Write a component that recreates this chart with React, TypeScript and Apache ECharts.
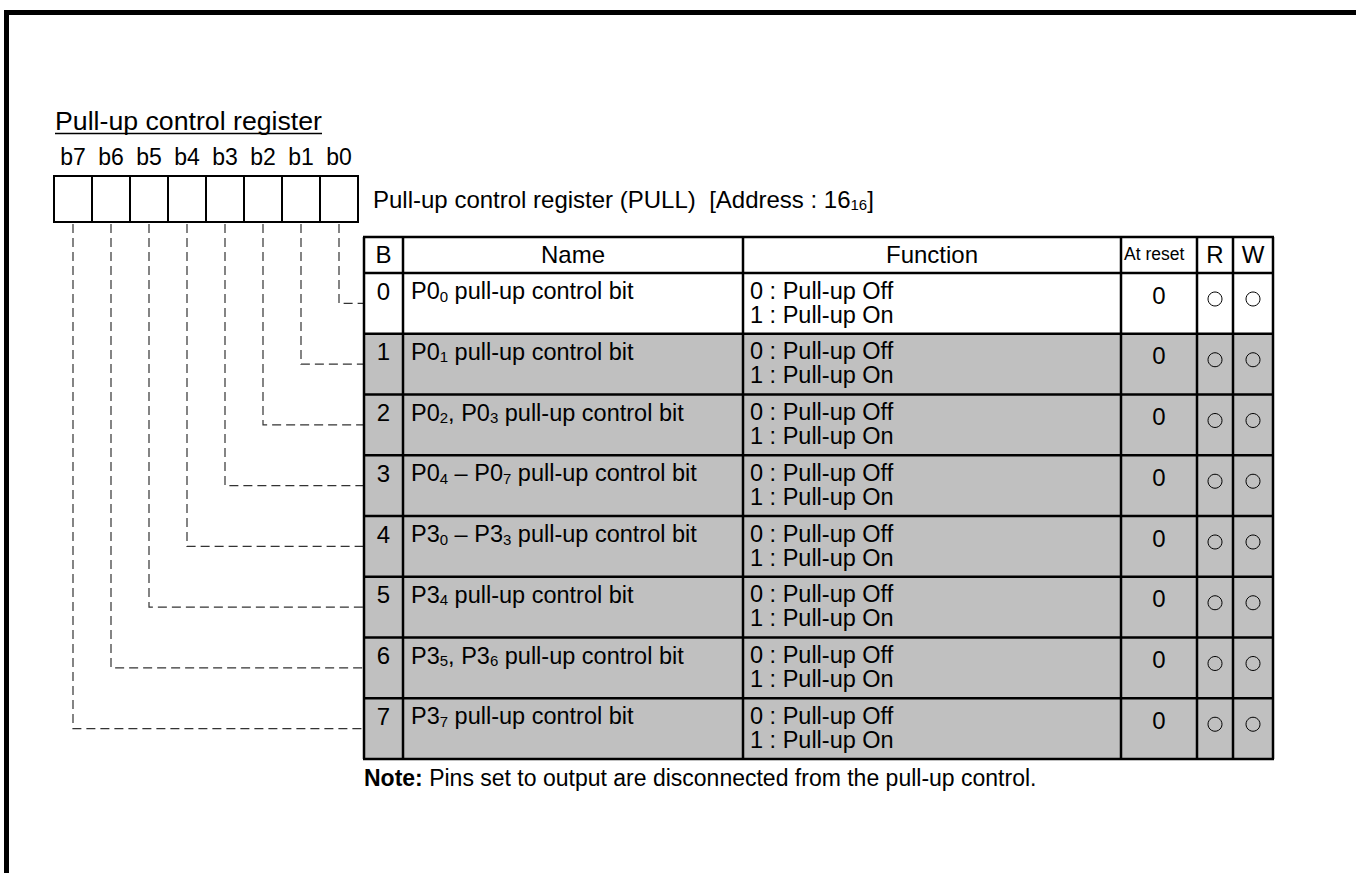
import React, { useEffect, useRef } from 'react';
import * as echarts from 'echarts';

// ---------- content ----------
const TITLE = 'Pull-up control register';
const DESCRIPTION = 'Pull-up control register (PULL)  [Address : 16{s|16}]';
const bitLabels = ['b7', 'b6', 'b5', 'b4', 'b3', 'b2', 'b1', 'b0'];
const headers = ['B', 'Name', 'Function', 'At reset', 'R', 'W'];
const rowBits = ['0', '1', '2', '3', '4', '5', '6', '7'];
const rowNames = [
  'P0{s|0} pull-up control bit',
  'P0{s|1} pull-up control bit',
  'P0{s|2}, P0{s|3} pull-up control bit',
  'P0{s|4} – P0{s|7} pull-up control bit',
  'P3{s|0} – P3{s|3} pull-up control bit',
  'P3{s|4} pull-up control bit',
  'P3{s|5}, P3{s|6} pull-up control bit',
  'P3{s|7} pull-up control bit',
];
const functionOff = [
  '0 : Pull-up Off', '0 : Pull-up Off', '0 : Pull-up Off', '0 : Pull-up Off',
  '0 : Pull-up Off', '0 : Pull-up Off', '0 : Pull-up Off', '0 : Pull-up Off',
];
const functionOn = [
  '1 : Pull-up On', '1 : Pull-up On', '1 : Pull-up On', '1 : Pull-up On',
  '1 : Pull-up On', '1 : Pull-up On', '1 : Pull-up On', '1 : Pull-up On',
];
const resetValues = ['0', '0', '0', '0', '0', '0', '0', '0'];
const readable = [true, true, true, true, true, true, true, true];
const writable = [true, true, true, true, true, true, true, true];
const shaded = [false, true, true, true, true, true, true, true];
const NOTE_LABEL = 'Note:';
const NOTE_TEXT = ' Pins set to output are disconnected from the pull-up control.';

// ---------- layout ----------
const FONT = '"Liberation Sans", Arial, Helvetica, sans-serif';
const COLS = [364, 403, 743, 1121, 1197, 1233, 1273];
const HEADER_TOP = 237;
const HEADER_BOTTOM = 273;
const ROW_H = 60.75;
const BOX_LEFT = 54;
const BOX_W = 38;
const BOX_TOP = 176;
const BOX_BOTTOM = 222;
const GRAY = '#c0c0c0';

function buildElements() {
  const els: any[] = [];
  const rowTop = (k: number) => HEADER_BOTTOM + k * ROW_H;
  const tableBottom = rowTop(rowBits.length);
  const subRich = {
    s: { fontSize: 15, lineHeight: 15, fontFamily: FONT, fill: '#000', verticalAlign: 'bottom' },
  };

  // frame (top + left thick border)
  els.push({ type: 'rect', shape: { x: 4, y: 10, width: 1352, height: 5 }, style: { fill: '#000' } });
  els.push({ type: 'rect', shape: { x: 4, y: 10, width: 5, height: 863 }, style: { fill: '#000' } });

  // title + underline
  els.push({
    type: 'text', x: 55, y: 121,
    style: { text: TITLE, fontSize: 26.7, fontFamily: FONT, fill: '#000', align: 'left', verticalAlign: 'middle' },
  });
  els.push({ type: 'line', shape: { x1: 55, y1: 133.5, x2: 322, y2: 133.5 }, style: { stroke: '#000', lineWidth: 1.5 } });

  // bit labels and boxes
  bitLabels.forEach((b, i) => {
    const cx = BOX_LEFT + BOX_W * i + BOX_W / 2;
    els.push({
      type: 'text', x: cx, y: 157,
      style: { text: b, fontSize: 23, fontFamily: FONT, fill: '#000', align: 'center', verticalAlign: 'middle' },
    });
    els.push({
      type: 'rect', shape: { x: BOX_LEFT + BOX_W * i, y: BOX_TOP, width: BOX_W, height: BOX_BOTTOM - BOX_TOP },
      style: { fill: '#fff', stroke: '#000', lineWidth: 2 },
    });
  });

  // description
  els.push({
    type: 'text', x: 373, y: 199,
    style: { text: DESCRIPTION, fontSize: 24, fontFamily: FONT, fill: '#000', align: 'left', verticalAlign: 'middle', lineHeight: 26, rich: subRich },
  });

  // dashed connectors (row k <- bit k)
  rowBits.forEach((_, k) => {
    const boxIndex = bitLabels.length - 1 - k;
    const x = BOX_LEFT + BOX_W * boxIndex + BOX_W / 2;
    const ym = rowTop(k) + ROW_H / 2;
    els.push({
      type: 'polyline',
      shape: { points: [[x, 224], [x, ym], [COLS[0], ym]] },
      style: { stroke: '#333', lineWidth: 1.2, lineDash: [9, 5], fill: 'none' },
    });
  });

  // table backgrounds
  els.push({
    type: 'rect', shape: { x: COLS[0], y: HEADER_TOP, width: COLS[6] - COLS[0], height: HEADER_BOTTOM - HEADER_TOP },
    style: { fill: '#fff' },
  });
  rowBits.forEach((_, k) => {
    els.push({
      type: 'rect', shape: { x: COLS[0], y: rowTop(k), width: COLS[6] - COLS[0], height: ROW_H },
      style: { fill: shaded[k] ? GRAY : '#fff' },
    });
  });

  // header texts
  const headerY = 254;
  const centers = COLS.slice(0, -1).map((c, i) => (c + COLS[i + 1]) / 2);
  headers.forEach((h, i) => {
    const small = h === 'At reset';
    els.push({
      type: 'text', x: small ? COLS[i] + 3 : centers[i], y: headerY,
      style: {
        text: h, fontSize: small ? 17.5 : 24, fontFamily: FONT, fill: '#000',
        align: small ? 'left' : 'center', verticalAlign: 'middle',
      },
    });
  });

  // row contents
  rowBits.forEach((bit, k) => {
    const top = rowTop(k);
    els.push({
      type: 'text', x: centers[0], y: top + 18,
      style: { text: bit, fontSize: 24, fontFamily: FONT, fill: '#000', align: 'center', verticalAlign: 'middle' },
    });
    els.push({
      type: 'text', x: COLS[1] + 8, y: top + 18,
      style: { text: rowNames[k], fontSize: 23.5, fontFamily: FONT, fill: '#000', align: 'left', verticalAlign: 'middle', lineHeight: 25, rich: subRich },
    });
    els.push({
      type: 'text', x: COLS[2] + 7, y: top + 29.5,
      style: {
        text: `${functionOff[k]}\n${functionOn[k]}`, fontSize: 23.5, lineHeight: 24,
        fontFamily: FONT, fill: '#000', align: 'left', verticalAlign: 'middle',
      },
    });
    els.push({
      type: 'text', x: centers[3], y: top + 22,
      style: { text: resetValues[k], fontSize: 24, fontFamily: FONT, fill: '#000', align: 'center', verticalAlign: 'middle' },
    });
    if (readable[k]) {
      els.push({ type: 'circle', shape: { cx: centers[4], cy: top + 26, r: 7 }, style: { fill: 'none', stroke: '#000', lineWidth: 1 } });
    }
    if (writable[k]) {
      els.push({ type: 'circle', shape: { cx: centers[5], cy: top + 26, r: 7 }, style: { fill: 'none', stroke: '#000', lineWidth: 1 } });
    }
  });

  // table grid lines
  const hLines = [HEADER_TOP, HEADER_BOTTOM, ...rowBits.map((_, k) => rowTop(k + 1))];
  hLines.forEach((y) => {
    els.push({ type: 'line', shape: { x1: COLS[0] - 1, y1: y, x2: COLS[6] + 1, y2: y }, style: { stroke: '#000', lineWidth: 2.5 } });
  });
  COLS.forEach((x) => {
    els.push({ type: 'line', shape: { x1: x, y1: HEADER_TOP, x2: x, y2: tableBottom }, style: { stroke: '#000', lineWidth: 2.5 } });
  });

  // note
  els.push({
    type: 'text', x: COLS[0], y: tableBottom + 19,
    style: {
      text: `{b|${NOTE_LABEL}}${NOTE_TEXT}`, fontSize: 23, fontFamily: FONT, fill: '#000', align: 'left', verticalAlign: 'middle',
      rich: { b: { fontSize: 23, fontWeight: 'bold', fontFamily: FONT, fill: '#000' } },
    },
  });

  return els;
}

export default function App() {
  const ref = useRef<HTMLDivElement>(null);
  useEffect(() => {
    if (!ref.current) return;
    const chart = echarts.init(ref.current, null, { renderer: 'svg' });
    chart.setOption({
      animation: false,
      graphic: { elements: buildElements() },
    });
    return () => chart.dispose();
  }, []);
  return (
    <div
      ref={ref}
      style={{ position: 'absolute', left: 0, top: 0, width: 1356, height: 873, background: '#fff' }}
    />
  );
}
